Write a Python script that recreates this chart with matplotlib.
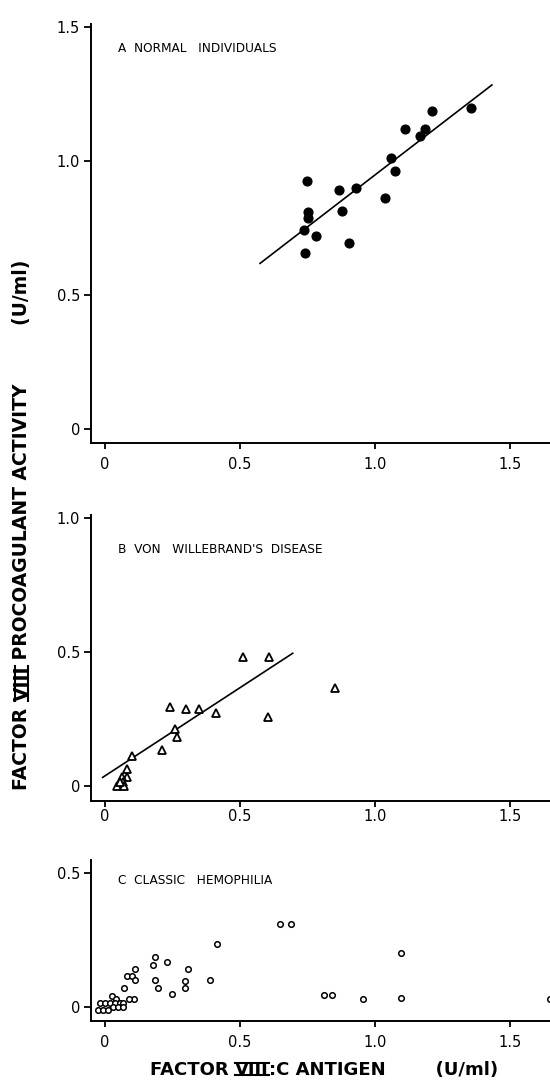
import matplotlib
matplotlib.use('Agg')
import matplotlib.pyplot as plt
from matplotlib.lines import Line2D
import numpy as np

# A - normal individuals (filled circles)
normal_ag = [0.749, 0.868, 0.930, 0.751, 0.751, 0.878, 0.738, 0.781, 0.740,
             0.904, 1.038, 1.060, 1.074, 1.112, 1.167, 1.184, 1.210, 1.354]
normal_act = [0.927, 0.892, 0.898, 0.809, 0.786, 0.815, 0.744, 0.719, 0.656,
              0.695, 0.863, 1.012, 0.963, 1.118, 1.093, 1.118, 1.188, 1.198]
normal_fit = (0.775, 0.173)      # slope, intercept
normal_fit_x = (0.574, 1.433)

# B - von Willebrand's disease (open triangles)
vwd_ag = [0.512, 0.606, 0.851, 0.603, 0.241, 0.300, 0.349, 0.411, 0.260,
          0.268, 0.212, 0.101, 0.080, 0.083, 0.062, 0.068, 0.046, 0.071, 0.056]
vwd_act = [0.483, 0.483, 0.366, 0.259, 0.296, 0.289, 0.289, 0.274, 0.214,
           0.182, 0.134, 0.113, 0.062, 0.035, 0.035, 0.016, 0.001, 0.001, 0.016]
vwd_fit = (0.658, 0.038)
vwd_fit_x = (-0.009, 0.695)

# C - classic hemophilia (small open circles)
hemo_ag = [0.648, 0.689, 0.414, 0.186, 0.179, 0.230, 0.112, 0.309, 0.081,
           0.099, 0.111, 0.186, 0.296, 0.390, 0.069, 0.195, 0.297, 0.249,
           0.811, 0.842, 0.109, 0.088, 0.025, 0.040,
           -0.019, 0.000, 0.019, 0.037, 0.056, 0.068,
           -0.025, -0.006, 0.012, 0.031, 0.049, 0.065,
           0.956, 1.097, 1.095, 1.648]
hemo_act = [0.310, 0.310, 0.236, 0.187, 0.158, 0.168, 0.141, 0.141, 0.117,
            0.117, 0.101, 0.102, 0.097, 0.102, 0.073, 0.070, 0.070, 0.050,
            0.044, 0.047, 0.030, 0.030, 0.042, 0.032,
            0.016, 0.016, 0.016, 0.016, 0.016, 0.016,
            -0.009, -0.009, -0.009, 0.001, 0.001, 0.001,
            0.029, 0.201, 0.033, 0.032]

x_ticks = [0, 0.5, 1.0, 1.5]
x_ticklabels = ['0', '0.5', '1.0', '1.5']
a_yticks = [0, 0.5, 1.0, 1.5]
a_yticklabels = ['0', '0.5', '1.0', '1.5']
b_yticks = [0, 0.5, 1.0]
b_yticklabels = ['0', '0.5', '1.0']
c_yticks = [0, 0.5]
c_yticklabels = ['0', '0.5']

plt.rcParams['font.family'] = ['DejaVu Sans']

fig = plt.figure(figsize=(5.5, 10.87), dpi=100)


def style_axes(ax, ylim, yticks, yticklabels, xpad):
    ax.set_xlim(-0.052, 1.648)
    ax.set_ylim(*ylim)
    for s in ['top', 'right']:
        ax.spines[s].set_visible(False)
    for s in ['left', 'bottom']:
        ax.spines[s].set_linewidth(1.4)
    ax.set_xticks(x_ticks)
    ax.set_xticklabels(x_ticklabels)
    ax.set_yticks(yticks)
    ax.set_yticklabels(yticklabels)
    ax.tick_params(axis='x', direction='out', length=4, width=1.3,
                   labelsize=10.5, pad=xpad)
    ax.tick_params(axis='y', direction='out', length=5, width=1.3,
                   labelsize=10.5, pad=3)


def fit_line(ax, fit, xr):
    xs = np.array(xr)
    ax.plot(xs, fit[0] * xs + fit[1], color='black', lw=1.2, zorder=2)


# panel A
axA = fig.add_axes([0.1655, 0.5925, 0.8345, 0.3852])
style_axes(axA, (-0.052, 1.51), a_yticks, a_yticklabels, 6)
axA.plot(normal_ag, normal_act, 'o', color='black', ms=6.3, zorder=3)
fit_line(axA, normal_fit, normal_fit_x)
axA.text(0.048, 1.418, 'A  NORMAL   INDIVIDUALS', fontsize=8.7, va='center')

# panel B
axB = fig.add_axes([0.1655, 0.2631, 0.8345, 0.2628])
style_axes(axB, (-0.056, 1.01), b_yticks, b_yticklabels, 2)
axB.plot(vwd_ag, vwd_act, '^', mfc='white', mec='black', mew=1.3, ms=6,
         zorder=3)
fit_line(axB, vwd_fit, vwd_fit_x)
axB.text(0.048, 0.881, "B  VON   WILLEBRAND'S  DISEASE", fontsize=8.7,
         va='center')

# panel C
axC = fig.add_axes([0.1655, 0.0607, 0.8345, 0.1481])
style_axes(axC, (-0.052, 0.549), c_yticks, c_yticklabels, 6)
axC.plot(hemo_ag, hemo_act, 'o', mfc='white', mec='black', mew=1.1, ms=4,
         zorder=3, clip_on=True)
axC.text(0.048, 0.474, 'C  CLASSIC   HEMOPHILIA', fontsize=8.7, va='center')

# x axis label, "VIII" with bars above and below
lab_kw = dict(fontsize=13, fontweight='bold', color='black')
t1 = fig.text(150 / 550, 1 - 1070 / 1087, 'FACTOR ', ha='left', va='center',
              **lab_kw)
t2 = axC.annotate('VIII', xy=(1, 0), xycoords=t1, ha='left', va='bottom',
                  annotation_clip=False, **lab_kw)
t3 = axC.annotate(':C ANTIGEN        (U/ml)', xy=(1, 0), xycoords=t2,
                  ha='left', va='bottom', annotation_clip=False, **lab_kw)

# y axis label
ylab_kw = dict(fontsize=13.5, fontweight='bold', color='black', rotation=90)
u1 = fig.text(22 / 550, 1 - 790 / 1087, 'FACTOR ', ha='center', va='bottom',
              **ylab_kw)
u2 = axC.annotate('VIII', xy=(0, 1), xycoords=u1, ha='left', va='bottom',
                  annotation_clip=False, **ylab_kw)
u3 = axC.annotate(' PROCOAGULANT ACTIVITY         (U/ml)', xy=(0, 1),
                  xycoords=u2, ha='left', va='bottom', annotation_clip=False,
                  **ylab_kw)

fig.canvas.draw()
r = fig.canvas.get_renderer()
W, H = fig.canvas.get_width_height()

bb = t2.get_window_extent(r)
h = bb.height
for yy in (bb.y0 + 0.2 * h, bb.y1 - 0.12 * h):
    fig.add_artist(Line2D([bb.x0 / W, bb.x1 / W], [yy / H, yy / H],
                          color='black', lw=1.5))

bb = u2.get_window_extent(r)
w = bb.width
for xx in (bb.x1 - 0.2 * w, bb.x0 + 0.12 * w):
    fig.add_artist(Line2D([xx / W, xx / W], [bb.y0 / H, bb.y1 / H],
                          color='black', lw=1.5))

fig.savefig('out.png', dpi=100)
